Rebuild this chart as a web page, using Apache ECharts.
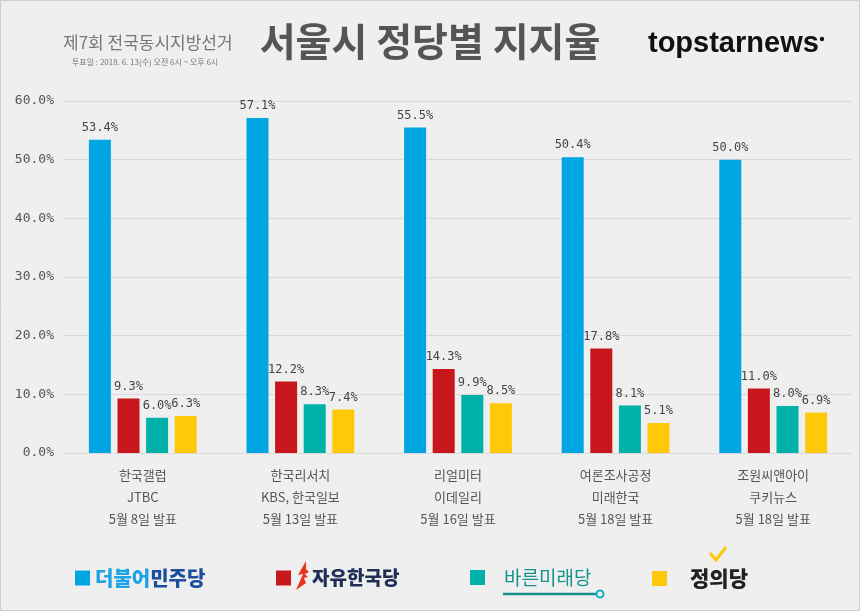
<!DOCTYPE html>
<html><head><meta charset="utf-8">
<script src="https://cdn.jsdelivr.net/npm/echarts@6/dist/echarts.min.js"></script>
<style>html,body{margin:0;padding:0;background:#efefef}#c{width:860px;height:611px}</style>
</head><body><div id="c"></div>
<script>
const categories = ['한국갤럽\nJTBC\n5월 8일 발표','한국리서치\nKBS, 한국일보\n5월 13일 발표','리얼미터\n이데일리\n5월 16일 발표','여론조사공정\n미래한국\n5월 18일 발표','조원씨앤아이\n쿠키뉴스\n5월 18일 발표'];
const parties = ['더불어민주당','자유한국당','바른미래당','정의당'];
const minjoo = [53.4, 57.1, 55.5, 50.4, 50.0];
const hanguk = [9.3, 12.2, 14.3, 17.8, 11.0];
const bareun = [6.0, 8.3, 9.9, 8.1, 8.0];
const jeongui = [6.3, 7.4, 8.5, 5.1, 6.9];
const colors = ['#00a6e2','#c8161d','#00b1a9','#ffc90a'];
const seriesData = [minjoo, hanguk, bareun, jeongui];

const chart = echarts.init(document.getElementById('c'));
const mono = 'DejaVu Sans Mono';
const kr = 'Noto Sans CJK KR';
chart.setOption({
  backgroundColor:'#efefef',
  animation:false,
  title:[
    {text:'서울시 정당별 지지율', left:'center', top:17, textStyle:{fontFamily:kr, fontSize:39, fontWeight:'bold', color:'#555'}},
    {text:'제7회 전국동시지방선거', left:58, top:29, textStyle:{fontFamily:kr, fontSize:17, fontWeight:'normal', color:'#777'}},
    {text:'투표일 : 2018. 6. 13(수) 오전 6시 ~ 오후 6시', left:67, top:53, textStyle:{fontFamily:kr, fontSize:8, fontWeight:'normal', color:'#777'}},
    {text:'topstarnews', left:643, top:24, textStyle:{fontFamily:'Liberation Sans', fontSize:29, fontWeight:'bold', color:'#111'}}
  ],
  grid:{left:64, right:8, top:101, bottom:158, containLabel:false},
  xAxis:{type:'category', data:categories,
    axisLine:{show:false}, axisTick:{show:false},
    axisLabel:{fontFamily:kr, fontSize:13, color:'#555', lineHeight:22, margin:11}},
  yAxis:{type:'value', min:0, max:60, interval:10,
    axisLabel:{formatter:v=>v.toFixed(1)+'%', fontFamily:mono, fontSize:13, color:'#555', margin:10},
    splitLine:{lineStyle:{color:'#d9d9d9', width:1}}, axisLine:{show:false}, axisTick:{show:false}},
  legend: parties.map((p,i)=>({
    data:[p], left:[70,271,465,647][i], top:563, itemWidth:15, itemHeight:15, icon:'rect', itemGap:0,
    selectedMode:false,
    formatter: i===0 ? '{a|더불어}{b|민주당}' : (i===1 ? '{s|}{c|자유한국당}' : (i===2 ? '{d|바른미래당}' : '{e|정의당}')),
    textStyle:{padding:[0,0,0,0], rich:{
      a:{fontFamily:kr, fontSize:20, fontWeight:900, color:'#1ba3e6'},
      b:{fontFamily:kr, fontSize:20, fontWeight:900, color:'#1b4f9d'},
      s:{width:16, fontSize:20},
      c:{fontFamily:kr, fontSize:19, fontWeight:900, color:'#1f2e55'},
      d:{fontFamily:kr, fontSize:19, fontWeight:'normal', color:'#17918b', padding:[0,0,0,14]},
      e:{fontFamily:kr, fontSize:21, fontWeight:900, color:'#222', padding:[0,0,0,18]}
    }}
  })),
  graphic:[
    {type:'rect', shape:{x:0.5,y:0.5,width:859,height:610}, style:{fill:null, stroke:'#cfcfcf', lineWidth:1}, silent:true},
    {type:'circle', shape:{cx:822, cy:39, r:2.2}, style:{fill:'#111'}},
    {type:'polygon', shape:{points:[[306,561],[298,575],[303,574],[296,590],[306,583],[304,578],[308,577],[305,574],[309,572],[306,569]]}, style:{fill:'#e8351f'}},
    {type:'line', shape:{x1:503,y1:594,x2:596,y2:594}, style:{stroke:'#17918b', lineWidth:2.5}},
    {type:'circle', shape:{cx:600, cy:594, r:3.5}, style:{fill:'#efefef', stroke:'#17b0c0', lineWidth:2}},
    {type:'polyline', shape:{points:[[710,553],[716,560],[726,547]]}, style:{stroke:'#ffc90a', lineWidth:3, fill:null}}
  ],
  series: parties.map((p,i)=>({
    name:p, type:'bar', data:seriesData[i], barWidth:22, barGap:'30%',
    itemStyle:{color:colors[i]},
    label:{show:true, position:'top', distance:6, formatter:d=>d.value.toFixed(1)+'%', fontFamily:mono, fontSize:12, color:'#444'}
  }))
});
</script></body></html>
